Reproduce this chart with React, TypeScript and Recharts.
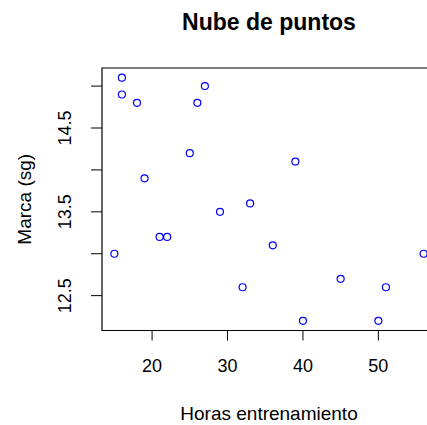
import { ScatterChart, Scatter, XAxis, YAxis, ReferenceArea } from 'recharts';

// hours of training vs. recorded time (seconds)
const hours = [16, 27, 16, 18, 26, 25, 19, 33, 29, 21, 22, 15, 32, 39, 36, 45, 51, 40, 50, 56];
const marks = [15.1, 15.0, 14.9, 14.8, 14.8, 14.2, 13.9, 13.6, 13.5, 13.2, 13.2, 13.0, 12.6, 14.1, 13.1, 12.7, 12.6, 12.2, 12.2, 13.0];

const xTicks = [20, 30, 40, 50];
const yTicks = [12.5, 13, 13.5, 14, 14.5, 15];
const yLabelled = [12.5, 13.5, 14.5];

const points = hours.map((h, i) => ({ horas: h, marca: marks[i] }));

// base-graphics style padding: 4% beyond the data range
const pad = (lo: number, hi: number): [number, number] => {
  const d = (hi - lo) * 0.04;
  return [lo - d, hi + d];
};
const xDomain = pad(Math.min(...hours), Math.max(...hours));
const yDomain = pad(Math.min(...marks), Math.max(...marks));

const FONT = '"Liberation Sans", Arial, sans-serif';

const OpenDot = ({ cx, cy }: any) => (
  <circle cx={cx} cy={cy} r={3.5} fill="none" stroke="#0000ff" strokeWidth={1.2} />
);

const XTick = ({ x, payload }: any) => (
  <text x={x} y={366} dy="0.355em" textAnchor="middle" fontSize={18} fontFamily={FONT} fill="#000">
    {payload.value}
  </text>
);

const YTick = ({ y, payload }: any) =>
  yLabelled.includes(payload.value) ? (
    <text
      x={0}
      y={0}
      dy="0.355em"
      transform={`translate(65,${y}) rotate(-90)`}
      textAnchor="middle"
      fontSize={18}
      fontFamily={FONT}
      fill="#000"
    >
      {payload.value.toFixed(1)}
    </text>
  ) : (
    <g />
  );

export default function App() {
  return (
    <div
      style={{
        position: 'fixed',
        left: 0,
        top: 0,
        width: 427,
        height: 425,
        overflow: 'hidden',
        background: '#fff',
        fontFamily: FONT,
      }}
    >
      <div
        style={{
          position: 'absolute',
          left: 0,
          top: 10.5,
          width: 538,
          textAlign: 'center',
          fontSize: 23,
          lineHeight: '23px',
          fontWeight: 'bold',
          color: '#000',
        }}
      >
        Nube de puntos
      </div>
      <ScatterChart width={450} height={425} margin={{ top: 68, right: 14, bottom: 0, left: 0 }}>
        <XAxis
          type="number"
          dataKey="horas"
          domain={xDomain}
          ticks={xTicks}
          allowDataOverflow
          axisLine={false}
          tickLine={{ stroke: '#000' }}
          tickSize={10}
          height={94.5}
          tick={<XTick />}
          label={{ value: 'Horas entrenamiento', position: 'insideBottom', offset: 5, fontSize: 19, fill: '#000', fontFamily: FONT }}
        />
        <YAxis
          type="number"
          dataKey="marca"
          domain={yDomain}
          ticks={yTicks}
          allowDataOverflow
          axisLine={false}
          tickLine={{ stroke: '#000' }}
          tickSize={11}
          width={102}
          tick={<YTick />}
          label={{
            value: 'Marca (sg)',
            angle: -90,
            position: 'insideLeft',
            offset: 24,
            fontSize: 19,
            fill: '#000',
            fontFamily: FONT,
            style: { textAnchor: 'middle' },
          }}
        />
        <ReferenceArea
          x1={xDomain[0]}
          x2={xDomain[1]}
          y1={yDomain[0]}
          y2={yDomain[1]}
          fill="none"
          stroke="#000"
          strokeWidth={1.2}
          ifOverflow="visible"
        />
        <Scatter data={points} shape={<OpenDot />} isAnimationActive={false} />
      </ScatterChart>
    </div>
  );
}
